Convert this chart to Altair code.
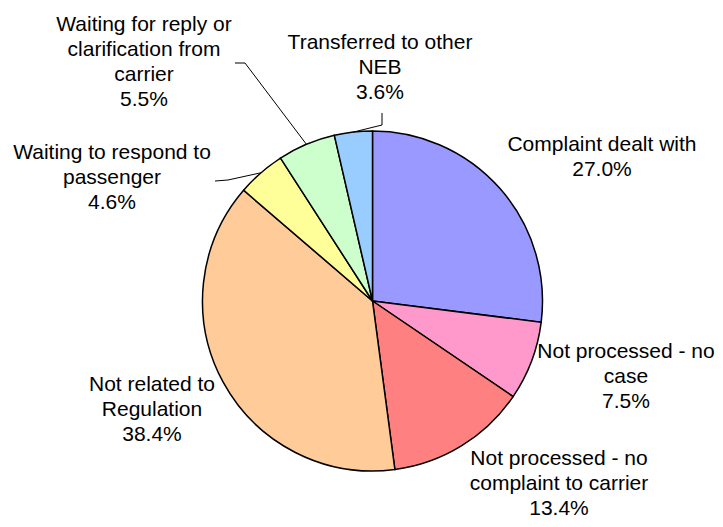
import math
import altair as alt
import pandas as pd

# ---- data ----
categories = [
    "Complaint dealt with",
    "Not processed - no case",
    "Not processed - no complaint to carrier",
    "Not related to Regulation",
    "Waiting to respond to passenger",
    "Waiting for reply or clarification from carrier",
    "Transferred to other NEB",
]
shares = [27.0, 7.5, 13.4, 38.4, 4.6, 5.5, 3.6]
label_lines = [
    ["Complaint dealt with"],
    ["Not processed - no", "case"],
    ["Not processed - no", "complaint to carrier"],
    ["Not related to", "Regulation"],
    ["Waiting to respond to", "passenger"],
    ["Waiting for reply or", "clarification from", "carrier"],
    ["Transferred to other", "NEB"],
]
colors = ["#9999FF", "#FF99CC", "#FF8080", "#FFCC99", "#FFFF99", "#CCFFCC", "#99CCFF"]

# ---- layout (page pixel coordinates; negative padding cancels the 8px page margin) ----
W, H = 715, 519
CX, CY, R = 372.5, 301.0, 170.0
label_x = [602, 626, 559, 152, 112, 144, 380]
label_y = [145, 352, 459, 385, 153, 25, 43]  # y of first text line
# leader lines: slice index -> elbow points near the label (pie end computed from value)
leader_elbows = {
    4: [(215, 181), (228, 180)],
    5: [(235, 63), (245, 63)],
    6: [(382, 113), (382, 125)],
}

pie_df = pd.DataFrame({
    "category": categories,
    "share": shares,
    "order": list(range(len(categories))),
})

text_df = pd.DataFrame({
    "category": categories,
    "text": [lines + [f"{v:.1f}%"] for lines, v in zip(label_lines, shares)],
    "x": label_x,
    "y": label_y,
})

# mid angles of slices (clockwise from 12 o'clock)
cum = 0.0
mids = []
total = sum(shares)
for v in shares:
    mids.append((cum + v / 2) / total * 2 * math.pi)
    cum += v

rows = []
for idx, pts in leader_elbows.items():
    a = mids[idx]
    edge = (CX + R * math.sin(a), CY - R * math.cos(a))
    for s, (px, py) in enumerate(pts + [edge]):
        rows.append({"leader": idx, "seq": s, "x": px, "y": py})
line_df = pd.DataFrame(rows)

xs = alt.Scale(domain=[0, W], range=[0, W])
ys = alt.Scale(domain=[0, H], range=[0, H])

pie = alt.Chart(pie_df).mark_arc(
    radius=R, stroke="black", strokeWidth=1.5
).encode(
    theta=alt.Theta("share:Q", stack=True),
    color=alt.Color("category:N", scale=alt.Scale(domain=categories, range=colors), legend=None),
    order=alt.Order("order:Q", sort="ascending"),
    x=alt.value(CX),
    y=alt.value(CY),
)

leaders = alt.Chart(line_df).mark_line(color="black", strokeWidth=1).encode(
    x=alt.X("x:Q", scale=xs, axis=None),
    y=alt.Y("y:Q", scale=ys, axis=None),
    detail="leader:N",
    order="seq:Q",
)

labels = alt.Chart(text_df).mark_text(
    font="Liberation Sans", fontSize=21, lineHeight=25,
    align="center", baseline="middle", color="black",
).encode(
    x=alt.X("x:Q", scale=xs, axis=None),
    y=alt.Y("y:Q", scale=ys, axis=None),
    text="text",
)

chart = alt.layer(pie, leaders, labels).properties(
    width=W, height=H, autosize=alt.AutoSizeParams(type="none"),
    padding={"left": -8, "top": -8, "right": 0, "bottom": 0},
).configure_view(stroke=None)

chart.save("out.html", embed_options={"renderer": "svg", "actions": False})
